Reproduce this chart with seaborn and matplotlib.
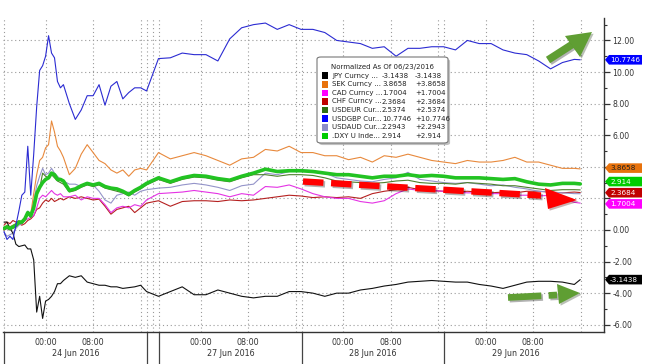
import numpy as np
import pandas as pd
import seaborn as sns
import matplotlib.pyplot as plt
import matplotlib.transforms as mtransforms
import matplotlib.patheffects as pe
from matplotlib.patches import FancyBboxPatch, Rectangle, Polygon
from matplotlib.lines import Line2D
from matplotlib.ticker import FixedLocator, MultipleLocator, FuncFormatter

# session hours counted from 23 Jun 17:00 (weekend squeezed into a ~2h gap)
hours = [0, 0.5, 1, 1.5, 2, 2.5, 3, 3.5, 4, 4.5, 5, 5.5, 6, 6.5, 7, 7.5, 8, 8.5, 9, 9.5, 10,
         11, 12, 13, 14, 15, 16, 17, 18, 19, 20, 21, 22, 23, 24,
         26, 28, 30, 32, 34, 36, 38, 40, 42, 44, 46, 48, 50, 52, 54, 56, 58, 60,
         62, 64, 66, 68, 70, 72, 74, 76, 78, 80, 82, 84, 86, 88, 90, 92, 94, 96, 97]

jpy = [0.5, 0.5, 0.1, -0.2, -0.9, -1.05, -1.0, -0.95, -1.2, -1.2, -1.9, -5.2, -4.2, -5.6, -4.5, -4.4, -4.2, -3.9, -3.4, -3.4, -3.2,
       -2.9, -3.0, -2.9, -3.3, -3.4, -3.5, -3.5, -3.6, -3.6, -3.7, -3.65, -3.6, -3.5, -3.9,
       -4.2, -3.9, -3.6, -4.1, -4.1, -3.8, -4.0, -4.2, -4.3, -4.2, -4.2, -3.9, -3.9, -4.0, -4.2, -4.0, -4.0, -3.8,
       -3.7, -3.55, -3.45, -3.3, -3.25, -3.2, -3.25, -3.3, -3.3, -3.45, -3.55, -3.7, -3.5, -3.3, -3.25, -3.25, -3.3, -3.45, -3.1438]
sek = [0.0, 0.3, 0.2, 0.3, 0.4, 0.6, 0.5, 0.8, 0.9, 1.0, 2.3, 3.5, 4.4, 4.6, 5.2, 5.4, 6.9, 6.2, 5.3, 5.0, 4.6,
       3.5, 3.9, 4.8, 5.4, 4.9, 4.4, 4.2, 3.8, 3.6, 3.8, 3.4, 3.8, 3.9, 3.8,
       4.9, 4.5, 4.7, 4.9, 4.7, 4.4, 4.1, 4.5, 4.6, 5.1, 5.0, 5.3, 4.9, 4.9, 4.7, 4.7, 4.45, 4.6,
       4.3, 4.7, 4.6, 4.8, 4.6, 4.4, 4.3, 4.2, 4.4, 4.3, 4.3, 4.4, 4.6, 4.3, 4.3, 4.1, 3.9, 3.9, 3.8658]
cad = [0.0, 0.1, 0.0, 0.2, 0.3, 0.4, 0.5, 0.6, 0.7, 0.8, 0.9, 1.4, 2.0, 2.2, 2.1, 2.3, 2.5, 2.3, 2.2, 2.3, 2.1,
       2.1, 2.2, 1.9, 2.1, 2.0, 2.0, 1.6, 1.1, 1.4, 1.5, 1.4, 1.6, 1.5, 1.9,
       2.3, 2.35, 2.4, 2.5, 2.4, 2.3, 2.1, 2.3, 2.2, 2.75, 2.7, 2.85, 2.6, 2.3, 2.1, 2.0, 2.0, 1.8,
       1.7, 1.85, 2.3, 2.6, 2.5, 2.5, 2.45, 2.4, 2.35, 2.35, 2.3, 2.3, 2.2, 2.2, 2.15, 2.2, 2.0, 1.75, 1.7004]
chf = [0.3, 0.5, 0.4, 0.6, 0.5, 0.4, 0.3, 0.4, 0.6, 0.7, 0.9, 1.3, 1.4, 1.7, 1.9, 1.8, 2.0, 1.8, 1.9, 2.0, 1.9,
       2.1, 2.0, 2.1, 2.0, 1.9, 1.95, 1.5, 1.0, 1.3, 1.4, 1.5, 1.1, 1.4, 1.7,
       1.85, 1.5, 1.8, 1.85, 1.85, 1.8, 1.9, 1.85, 1.9, 2.0, 2.1, 2.2, 2.15, 2.05, 2.1, 2.05, 2.1, 2.0,
       2.3, 2.45, 2.55, 2.7, 2.55, 2.5, 2.45, 2.4, 2.45, 2.4, 2.35, 2.4, 2.35, 2.45, 2.45, 2.4, 2.35, 2.4, 2.3684]
usdeur = [0.0, 0.1, 0.0, 0.1, 0.2, 0.4, 0.4, 0.6, 1.0, 0.8, 1.3, 2.2, 2.6, 3.6, 3.4, 3.3, 3.5, 3.3, 3.1, 3.0, 2.9,
          2.4, 2.5, 2.7, 2.85, 2.75, 2.85, 2.65, 2.55, 2.45, 2.35, 2.15, 2.4, 2.6, 2.85,
          3.2, 2.95, 3.2, 3.35, 3.3, 3.15, 3.05, 3.3, 3.5, 3.5, 3.4, 3.5, 3.5, 3.45, 3.3, 3.1, 3.05, 3.0,
          2.95, 3.0, 3.1, 3.15, 3.0, 2.95, 2.95, 2.9, 3.0, 2.95, 2.9, 2.8, 2.8, 2.7, 2.6, 2.5, 2.55, 2.55, 2.5374]
usdgbp = [-0.1, -0.6, -0.4, -0.6, 0.3, 1.2, 2.2, 2.4, 5.3, 2.2, 4.8, 7.8, 10.1, 10.4, 11.0, 12.3, 11.2, 10.9, 9.4, 9.0, 9.2,
          8.0, 7.0, 7.6, 8.5, 8.5, 9.2, 7.9, 9.1, 9.4, 8.3, 8.7, 9.0, 9.0, 8.8,
          10.85, 10.9, 11.2, 11.1, 11.1, 10.7, 12.1, 12.8, 13.0, 13.1, 12.7, 13.0, 12.7, 12.7, 12.5, 12.0, 11.9, 11.8,
          11.5, 11.6, 11.0, 11.5, 11.5, 11.6, 11.6, 11.4, 12.0, 11.8, 11.8, 11.4, 11.2, 11.1, 10.7, 10.2, 10.6, 10.8, 10.7746]
usdaud = [-0.15, -0.4, -0.3, -0.2, 0.1, 0.3, 0.4, 0.6, 1.2, 1.0, 1.8, 2.8, 3.4, 3.9, 3.5, 3.6, 3.9, 3.6, 3.4, 3.2, 3.1,
          2.9, 2.9, 2.75, 2.9, 2.85, 2.45, 1.9, 1.7, 2.2, 2.3, 2.4, 2.2, 2.45, 2.55,
          2.65, 2.7, 2.85, 2.95, 2.85, 2.7, 2.5, 2.8, 2.9, 3.6, 3.5, 3.7, 3.8, 3.75, 3.6, 3.3, 3.2, 3.1,
          3.05, 3.2, 3.3, 3.65, 3.2, 3.1, 3.0, 2.95, 3.0, 2.9, 2.8, 2.85, 2.7, 2.6, 2.45, 2.4, 2.35, 2.3, 2.2943]
dxy = [0.1, 0.2, 0.1, 0.2, 0.3, 0.5, 0.5, 0.7, 1.1, 0.9, 1.4, 2.3, 2.7, 3.0, 3.2, 3.3, 3.6, 3.5, 3.2, 3.2, 3.1,
       2.5, 2.6, 2.8, 2.95, 2.85, 2.95, 2.75, 2.65, 2.6, 2.45, 2.25, 2.5, 2.7, 2.95,
       3.3, 3.05, 3.3, 3.45, 3.4, 3.25, 3.15, 3.4, 3.6, 3.85, 3.7, 3.75, 3.75, 3.7, 3.6, 3.5, 3.5, 3.4,
       3.3, 3.4, 3.4, 3.5, 3.4, 3.45, 3.4, 3.3, 3.3, 3.3, 3.25, 3.2, 3.25, 3.05, 2.9, 2.85, 2.95, 2.95, 2.914]

legend_names = ["JPY Curncy ...", "SEK Curncy ...", "CAD Curncy ...", "CHF Curncy ...",
                "USDEUR Cur...", "USDGBP Cur...", "USDAUD Cur...", ".DXY U Inde..."]
legend_values = ["-3.1438", "3.8658", "1.7004", "2.3684", "2.5374", "10.7746", "2.2943", "2.914"]
legend_changes = ["-3.1438", "+3.8658", "+1.7004", "+2.3684", "+2.5374", "+10.7746", "+2.2943", "+2.914"]

day_starts = [0, 26.1, 50.1, 74.1]
day_labels = ["24 Jun 2016", "27 Jun 2016", "28 Jun 2016", "29 Jun 2016"]

keys = ["JPY", "SEK", "CAD", "CHF", "USDEUR", "USDGBP", "USDAUD", "DXY"]
df = pd.DataFrame({"hour": hours, "JPY": jpy, "SEK": sek, "CAD": cad, "CHF": chf,
                   "USDEUR": usdeur, "USDGBP": usdgbp, "USDAUD": usdaud, "DXY": dxy})
long = df.melt(id_vars="hour", var_name="series", value_name="value")

line_col = {"JPY": "#111111", "SEK": "#e8893c", "CAD": "#e433e4", "CHF": "#b52020",
            "USDEUR": "#4d7f2c", "USDGBP": "#2b2bd2", "USDAUD": "#9494c9", "DXY": "#22c322"}
box_col = {"JPY": "#000000", "SEK": "#e8720c", "CAD": "#ff00ff", "CHF": "#c00000",
           "USDEUR": "#2e6e12", "USDGBP": "#0000ff", "USDAUD": "#8c8cc8", "DXY": "#00cc00"}
widths = {k: 0.8 for k in keys}
widths["DXY"] = 2.6

sns.set_style("white")
plt.rcParams["font.family"] = ["DejaVu Sans"]

W, H = 655, 364
fig = plt.figure(figsize=(W / 100, H / 100), dpi=100)


def fx(px):
    return px / W


def fy(py):
    return 1 - py / H


ax = fig.add_axes([fx(3), fy(332), (604 - 3) / W, (332 - 18) / H])

for k in ["CHF", "CAD", "USDAUD", "USDEUR", "SEK", "JPY", "DXY", "USDGBP"]:
    sns.lineplot(data=long[long.series == k], x="hour", y="value", color=line_col[k],
                 lw=widths[k], ax=ax, legend=False, errorbar=None)

ax.set_xlim(-0.17, 101.0)
ax.set_ylim(-6.46, 13.42)
ax.set_xlabel("")
ax.set_ylabel("")

grid_kw = dict(color="#9a9a9a", lw=0.8, ls=(0, (1, 2.5)), zorder=0)
for v in range(-6, 13, 2):
    ax.axhline(v, **grid_kw)
vlines = [24, 25.1]
for d in day_starts:
    vlines += [d, d + 7, d + 15, d + 23]
for v in sorted(set(vlines)):
    ax.axvline(v, **grid_kw)

# axes frame
sns.despine(ax=ax, left=True, top=True, right=False, bottom=False)
for s in ["right", "bottom"]:
    ax.spines[s].set_color("#333333")
    ax.spines[s].set_linewidth(1.0)

# the 4.00 and 2.00 labels sit under the value tags, so they are left blank
hidden = {2, 4}
ax.yaxis.tick_right()
ax.yaxis.set_major_locator(MultipleLocator(2))
ax.yaxis.set_minor_locator(MultipleLocator(1))
ax.yaxis.set_major_formatter(FuncFormatter(lambda v, p: "" if round(v) in hidden else f"{v:.2f}"))
ax.tick_params(axis="y", which="major", length=4, width=0.9, direction="out",
               labelsize=5.6, pad=2, colors="#333333", right=True, left=False)
ax.tick_params(axis="y", which="minor", length=2, width=0.8, direction="out",
               colors="#333333", right=True, left=False)

major_x = []
major_lab = []
minor_x = []
for d in day_starts:
    major_x += [d + 7, d + 15]
    major_lab += ["00:00", "08:00"]
    minor_x += [d + 3, d + 11, d + 19, d + 23]
ax.xaxis.set_major_locator(FixedLocator(major_x))
ax.set_xticklabels(major_lab)
ax.xaxis.set_minor_locator(FixedLocator(minor_x))
ax.tick_params(axis="x", which="major", length=3, width=0.8, direction="out",
               labelsize=5.8, pad=1.5, colors="#333333")
ax.tick_params(axis="x", which="minor", length=2, width=0.8, direction="out",
               colors="#333333")

xt = ax.get_xaxis_transform()
ends = [24, 50.1, 74.1, 98.1]
for d, e, lab in zip(day_starts, ends, day_labels):
    ax.text((d + e) / 2, -0.07, lab, transform=xt, ha="center", va="center",
            fontsize=5.8, color="#333333")
for sx in [0, 24, 26.1, 50.1, 74.1]:
    ax.plot([sx, sx], [0, -0.105], transform=xt, clip_on=False, color="#444444", lw=0.9)

# value tags on the right axis
yt = mtransforms.blended_transform_factory(ax.transAxes, ax.transData)
last = {k: df[k].iloc[-1] for k in keys}
nudge = {"SEK": 0.05, "DXY": 0.15, "CHF": -0.01, "CAD": -0.05}
tag_txt = {"USDGBP": ("10.7746", "white"), "SEK": ("3.8658", "#222222"),
           "CHF": ("2.3684", "white"), "DXY": ("2.914", "white"),
           "CAD": ("1.7004", "white"), "JPY": ("-3.1438", "white")}
hh = 4.8 / 15.8
x0, x1, x2 = 1 + 1 / 601, 1 + 5 / 601, 1 + 38 / 601
for k in ["USDGBP", "JPY", "CHF", "SEK", "DXY", "CAD"]:
    yv = last[k] + nudge.get(k, 0)
    poly = Polygon([(x0, yv), (x1, yv + hh), (x2, yv + hh), (x2, yv - hh), (x1, yv - hh)],
                   closed=True, transform=yt, clip_on=False, fc=box_col[k], ec="none")
    ax.add_patch(poly)
    ax.text(x1 + 1 / 601, yv, tag_txt[k][0], transform=yt, ha="left", va="center",
            fontsize=5.2, color=tag_txt[k][1], clip_on=False)

# legend table
lg = FancyBboxPatch((fx(317), fy(143)), (448 - 317) / W, (143 - 57) / H,
                    boxstyle="round,pad=0,rounding_size=0.006", transform=fig.transFigure,
                    fc="white", ec="#777777", lw=0.8, zorder=5,
                    path_effects=[pe.withSimplePatchShadow(offset=(1.5, -1.5), alpha=0.35)])
fig.add_artist(lg)
fig.text(fx(383), fy(66.5), "Normalized As Of 06/23/2016", ha="center", va="center",
         fontsize=5.0, color="#222222", zorder=6)
for i, k in enumerate(keys):
    ry = 75.7 + 8.6 * i
    fig.add_artist(Rectangle((fx(322), fy(ry + 3.2)), 6.4 / W, 6.4 / H, transform=fig.transFigure,
                             fc=box_col[k], ec="none", zorder=6))
    fig.text(fx(332), fy(ry), legend_names[i], ha="left", va="center", fontsize=5.0,
             color="#222222", zorder=6)
    fig.text(fx(382), fy(ry), legend_values[i], ha="left", va="center", fontsize=5.0,
             color="#222222", zorder=6)
    fig.text(fx(415), fy(ry), legend_changes[i], ha="left", va="center", fontsize=5.0,
             color="#222222", zorder=6)

# annotation arrows
shadow_l = [pe.SimpleLineShadow(offset=(1.2, -1.2), alpha=0.3), pe.Normal()]
shadow_p = [pe.withSimplePatchShadow(offset=(1.2, -1.2), alpha=0.3)]
green_a = "#5f9e33"

# up arrow at top right
fig.add_artist(Line2D([fx(548), fx(576)], [fy(60), fy(42)], transform=fig.transFigure,
                      color=green_a, lw=5.5, solid_capstyle="butt", path_effects=shadow_l, zorder=7))
fig.add_artist(Polygon([(fx(565), fy(36)), (fx(580), fy(57)), (fx(592), fy(32))], closed=True,
                       transform=fig.transFigure, fc=green_a, ec="none", path_effects=shadow_p, zorder=7))

# red dashed arrow
fig.add_artist(Line2D([fx(303), fx(541)], [fy(181.5), fy(195.5)], transform=fig.transFigure,
                      color="#ff0000", lw=4.6, ls=(0, (3.2, 1.2)), solid_capstyle="butt",
                      dash_capstyle="butt", path_effects=shadow_l, zorder=7))
fig.add_artist(Polygon([(fx(545), fy(188)), (fx(548), fy(209)), (fx(577), fy(200))], closed=True,
                       transform=fig.transFigure, fc="#ff0000", ec="none", path_effects=shadow_p, zorder=7))

# green dashed arrow
fig.add_artist(Line2D([fx(508), fx(557)], [fy(297.5), fy(295)], transform=fig.transFigure,
                      color=green_a, lw=4.8, ls=(0, (5.0, 1.1)), dash_capstyle="butt",
                      path_effects=shadow_l, zorder=7))
fig.add_artist(Polygon([(fx(557), fy(284)), (fx(559), fy(304)), (fx(580), fy(293))], closed=True,
                       transform=fig.transFigure, fc=green_a, ec="none", path_effects=shadow_p, zorder=7))

fig.savefig("out.png", dpi=100, facecolor="white")
